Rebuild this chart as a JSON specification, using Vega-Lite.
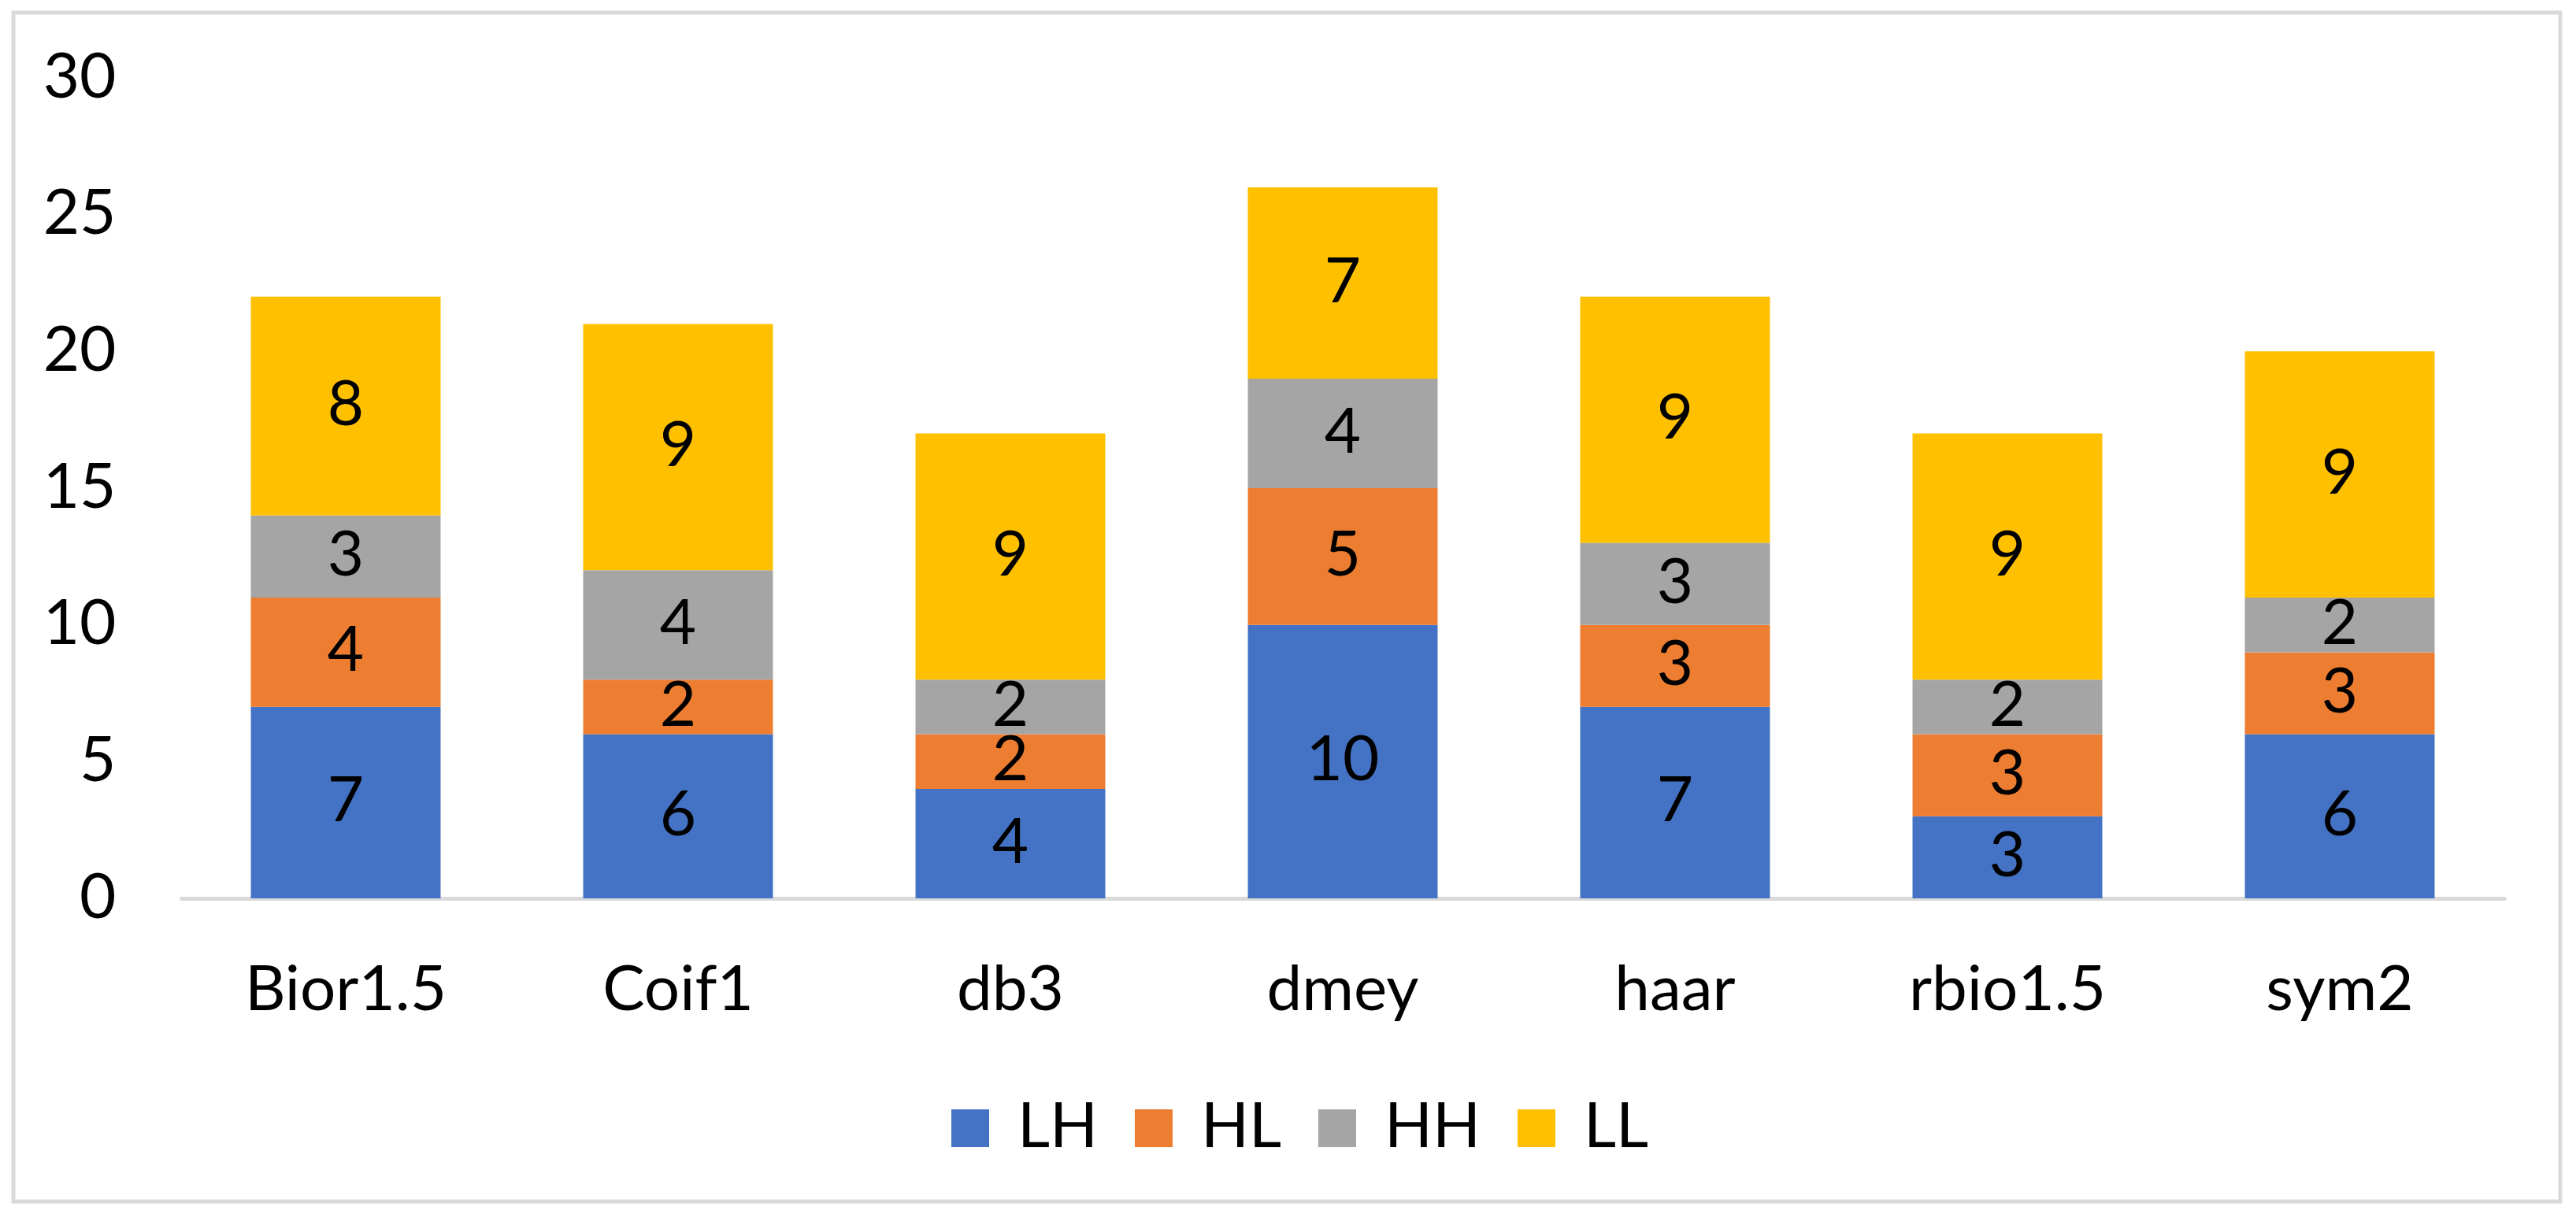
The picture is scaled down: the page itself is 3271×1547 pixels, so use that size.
{
  "$schema": "https://vega.github.io/schema/vega-lite/v6.json",
  "width": 3234,
  "height": 1510,
  "autosize": {"type": "none"},
  "padding": {"left": 17, "top": 16, "right": 20, "bottom": 21},
  "background": "white",
  "config": {
    "view": {"stroke": "#d9d9d9", "strokeWidth": 5, "fill": "white"},
    "font": "Lato"
  },
  "data": {
    "values": [
      {"method": "Bior1.5", "band": "LH", "order": 1, "value": 7},
      {"method": "Bior1.5", "band": "HL", "order": 2, "value": 4},
      {"method": "Bior1.5", "band": "HH", "order": 3, "value": 3},
      {"method": "Bior1.5", "band": "LL", "order": 4, "value": 8},
      {"method": "Coif1", "band": "LH", "order": 1, "value": 6},
      {"method": "Coif1", "band": "HL", "order": 2, "value": 2},
      {"method": "Coif1", "band": "HH", "order": 3, "value": 4},
      {"method": "Coif1", "band": "LL", "order": 4, "value": 9},
      {"method": "db3", "band": "LH", "order": 1, "value": 4},
      {"method": "db3", "band": "HL", "order": 2, "value": 2},
      {"method": "db3", "band": "HH", "order": 3, "value": 2},
      {"method": "db3", "band": "LL", "order": 4, "value": 9},
      {"method": "dmey", "band": "LH", "order": 1, "value": 10},
      {"method": "dmey", "band": "HL", "order": 2, "value": 5},
      {"method": "dmey", "band": "HH", "order": 3, "value": 4},
      {"method": "dmey", "band": "LL", "order": 4, "value": 7},
      {"method": "haar", "band": "LH", "order": 1, "value": 7},
      {"method": "haar", "band": "HL", "order": 2, "value": 3},
      {"method": "haar", "band": "HH", "order": 3, "value": 3},
      {"method": "haar", "band": "LL", "order": 4, "value": 9},
      {"method": "rbio1.5", "band": "LH", "order": 1, "value": 3},
      {"method": "rbio1.5", "band": "HL", "order": 2, "value": 3},
      {"method": "rbio1.5", "band": "HH", "order": 3, "value": 2},
      {"method": "rbio1.5", "band": "LL", "order": 4, "value": 9},
      {"method": "sym2", "band": "LH", "order": 1, "value": 6},
      {"method": "sym2", "band": "HL", "order": 2, "value": 3},
      {"method": "sym2", "band": "HH", "order": 3, "value": 2},
      {"method": "sym2", "band": "LL", "order": 4, "value": 9}
    ]
  },
  "transform": [
    {"stack": "value", "groupby": ["method"], "sort": [{"field": "order", "order": "ascending"}], "as": ["v0", "v1"]},
    {"calculate": "(datum.v0 + datum.v1) / 2", "as": "vmid"}
  ],
  "encoding": {
    "x": {
      "field": "method",
      "type": "nominal",
      "sort": null,
      "scale": {"range": [211, 3165], "paddingInner": 0.429, "paddingOuter": 0.2145},
      "axis": {
        "title": null,
        "orient": "bottom",
        "offset": -385,
        "labelAngle": 0,
        "labelFontSize": 80,
        "labelFont": "Lato",
        "labelColor": "#000000",
        "labelPadding": 78,
        "labelLimit": 0,
        "ticks": false,
        "grid": false,
        "domain": true,
        "domainColor": "#d9d9d9",
        "domainWidth": 5
      }
    }
  },
  "layer": [
    {
      "mark": {"type": "bar"},
      "encoding": {
        "y": {
          "field": "v0",
          "type": "quantitative",
          "scale": {"domain": [0, 30], "range": [1125, 83], "nice": false},
          "axis": {
            "title": null,
            "orient": "left",
            "offset": -211,
            "values": [0, 5, 10, 15, 20, 25, 30],
            "labelFontSize": 80,
            "labelFont": "Lato",
            "labelColor": "#000000",
            "labelPadding": 81,
            "ticks": false,
            "grid": false,
            "domain": false
          }
        },
        "y2": {"field": "v1"},
        "color": {
          "field": "band",
          "type": "nominal",
          "scale": {"domain": ["LH", "HL", "HH", "LL"], "range": ["#4472C4", "#ED7D31", "#A5A5A5", "#FFC000"]},
          "legend": {
            "title": null,
            "orient": "none",
            "legendX": 1175,
            "legendY": 1377,
            "direction": "horizontal",
            "symbolType": "square",
            "symbolSize": 2304,
            "symbolStrokeWidth": 0,
            "symbolOpacity": 1,
            "labelFontSize": 80,
            "labelFont": "Lato",
            "labelColor": "#000000",
            "labelOffset": 20,
            "columnPadding": 30,
            "padding": 0
          }
        }
      }
    },
    {
      "mark": {"type": "text", "fontSize": 80, "font": "Lato", "color": "#000000", "baseline": "middle", "align": "center"},
      "encoding": {
        "y": {"field": "vmid", "type": "quantitative"},
        "text": {"field": "value", "type": "quantitative"}
      }
    }
  ]
}
